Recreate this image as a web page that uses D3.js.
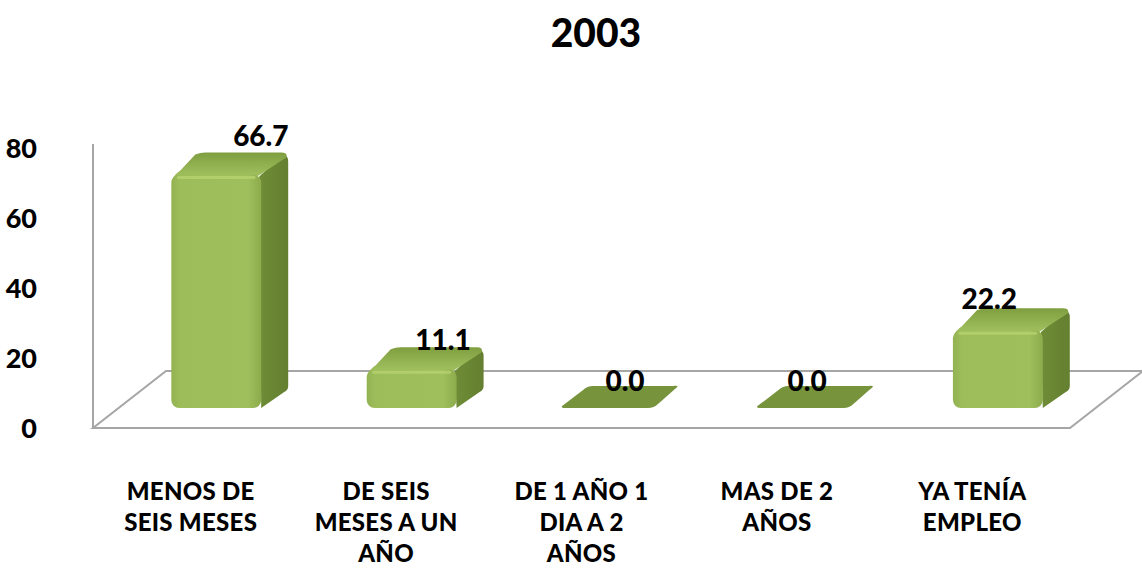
<!DOCTYPE html>
<html><head><meta charset="utf-8">
<script src="https://cdn.jsdelivr.net/npm/d3@7/dist/d3.min.js"></script>
<style>
html,body{margin:0;padding:0;background:#fff;}
svg{display:block;}
text{font-family:Lato,"Open Sans",sans-serif;font-weight:bold;fill:#000;}
</style></head>
<body>
<svg id="chart" width="1142" height="570"></svg>
<script>
const title = "2003";
const categories = [
  ["MENOS DE", "SEIS MESES"],
  ["DE SEIS", "MESES A UN", "AÑO"],
  ["DE 1 AÑO 1", "DIA A 2", "AÑOS"],
  ["MAS DE 2", "AÑOS"],
  ["YA TENÍA", "EMPLEO"]
];
const values = [66.7, 11.1, 0.0, 0.0, 22.2];
const yTicks = [0, 20, 40, 60, 80];

const svg = d3.select("#chart");
const keys = categories.map(c => c.join(" "));
const x = d3.scaleBand().domain(keys).range([93, 1070]).padding(0);
const y = d3.scaleLinear().domain([0, 80]).range([428, 148]);

const floorDX = 73, floorDY = -57;
const frontF = 0.35;
const fdx = floorDX * frontF, fdy = floorDY * frontF;
const bdx = 27, bdy = -22;
const barW = x.bandwidth() * 0.46;

const defs = svg.append("defs");
const g1 = defs.append("linearGradient").attr("id", "front").attr("x1", 0).attr("y1", 0).attr("x2", 1).attr("y2", 0);
g1.append("stop").attr("offset", "0%").attr("stop-color", "#93b352");
g1.append("stop").attr("offset", "10%").attr("stop-color", "#9dbd5b");
g1.append("stop").attr("offset", "85%").attr("stop-color", "#9fbf5c");
g1.append("stop").attr("offset", "100%").attr("stop-color", "#8cab4b");
const g2 = defs.append("linearGradient").attr("id", "side").attr("x1", 0).attr("y1", 0).attr("x2", 1).attr("y2", 0);
g2.append("stop").attr("offset", "0%").attr("stop-color", "#6f8d37");
g2.append("stop").attr("offset", "100%").attr("stop-color", "#637f30");
const g3 = defs.append("linearGradient").attr("id", "top").attr("x1", 0).attr("y1", 1).attr("x2", 0).attr("y2", 0);
g3.append("stop").attr("offset", "0%").attr("stop-color", "#a6c663");
g3.append("stop").attr("offset", "100%").attr("stop-color", "#7f9e40");

svg.append("text").attr("x", 596).attr("y", 47).attr("text-anchor", "middle")
  .style("font-size", "39px").style("font-weight", "900").text(title);

const x0 = x.range()[0], x1 = x.range()[1], y0 = y(0);
const floor = svg.append("g").attr("fill", "none").attr("stroke", "#a6a6a6").attr("stroke-width", 2);
floor.append("path").attr("d",
  `M${x0},${y0} L${x1},${y0} L${x1 + floorDX},${y0 + floorDY} L${x0 + floorDX},${y0 + floorDY} Z`);
floor.append("line").attr("x1", x0).attr("y1", y0).attr("x2", x0).attr("y2", y(80) - 4);

const yAxis = d3.axisLeft(y).tickValues(yTicks).tickSize(0).tickPadding(0).tickFormat(d3.format("d"));
const ya = svg.append("g").attr("transform", `translate(37,0)`).call(yAxis);
ya.select(".domain").remove();
ya.selectAll("text").style("font-size", "27px").style("font-family", "Lato,'Open Sans',sans-serif")
  .style("font-weight", "900").attr("fill", "#000").attr("dy", "0.36em");

const bars = svg.append("g");
values.forEach((v, i) => {
  const cx = x(keys[i]) + x.bandwidth() / 2 + fdx;
  const bl = cx - barW / 2, br = cx + barW / 2;
  const bb = y(0) + fdy;
  const bt = y(v) + fdy;
  const g = bars.append("g");
  if (v > 0) {
    const r = 8;
    g.append("path").attr("fill", "url(#side)")
      .attr("d", `M${br - 2},${bt + 2} L${br + bdx - 5},${bt + bdy + 2} Q${br + bdx},${bt + bdy + 3} ${br + bdx},${bt + bdy + 9} L${br + bdx},${bb + bdy} Q${br + bdx},${bb + bdy + 4} ${br + bdx - 4},${bb + bdy + 6} L${br},${bb} Z`);
    g.append("path").attr("fill", "url(#top)")
      .attr("d", `M${bl + 1},${bt + 5} Q${bl + 3},${bt} ${bl + 9},${bt - 4} L${bl + bdx - 3},${bt + bdy + 2} Q${bl + bdx + 2},${bt + bdy} ${bl + bdx + 7},${bt + bdy} L${br + bdx - 7},${bt + bdy} Q${br + bdx},${bt + bdy} ${br + bdx - 2},${bt + bdy + 5} L${br - 4},${bt + 2} Z`);
    g.append("rect").attr("x", bl).attr("y", bt).attr("width", barW).attr("height", bb - bt)
      .attr("rx", r).attr("ry", r).attr("fill", "url(#front)");
    g.append("path").attr("fill", "none").attr("stroke", "#b9d672").attr("stroke-width", 3)
      .attr("stroke-linecap", "round").attr("opacity", 0.7)
      .attr("d", `M${bl + 7},${bt + 3} L${br - 7},${bt + 3}`);
  } else {
    g.append("path").attr("fill", "#77933c")
      .attr("d", `M${bl + 4},${bb} L${br - 4},${bb} Q${br + 2},${bb} ${br + 6},${bb - 4} L${br + bdx - 4},${bb + bdy + 3} Q${br + bdx + 2},${bb + bdy - 1} ${br + bdx - 6},${bb + bdy} L${bl + bdx + 4},${bb + bdy} Q${bl + bdx - 2},${bb + bdy} ${bl + bdx - 6},${bb + bdy + 4} L${bl},${bb - 2} Q${bl - 2},${bb} ${bl + 4},${bb} Z`);
  }
});

// value labels (with a perspective shift as in the source's 3D view)
const mid = (x0 + x1) / 2 + fdx;
const labels = svg.append("g");
values.forEach((v, i) => {
  const cx = x(keys[i]) + x.bandwidth() / 2 + fdx;
  const h = y(0) - y(v);
  const lx = cx + 18 - 0.068 * (cx - mid);
  const ly = y(v) + fdy + bdy + 5 - 0.05 * h;
  labels.append("text").attr("x", lx).attr("y", ly).attr("text-anchor", "middle")
    .style("font-size", "28px").style("font-weight", "900").text(d3.format(".1f")(v));
});

const cats = svg.append("g");
categories.forEach((lines, i) => {
  const cx = x(keys[i]) + x.bandwidth() / 2;
  const t = cats.append("text").attr("text-anchor", "middle").style("font-size", "24px")
    .style("font-weight", "900").style("letter-spacing", "0.3px");
  lines.forEach((ln, j) => {
    t.append("tspan").attr("x", cx).attr("y", 500 + j * 31).text(ln);
  });
});
</script>
</body></html>
